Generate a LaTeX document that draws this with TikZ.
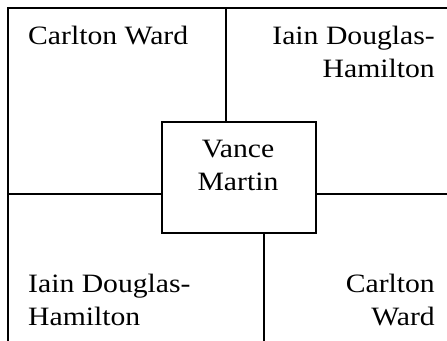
\documentclass[tikz,border=0pt]{standalone}
\usepackage{fontspec}
\setmainfont{Liberation Serif}[FakeStretch=1.12]
\begin{document}
\begin{tikzpicture}[x=1pt,y=1pt,
  rule/.style={line width=1.8pt,line cap=rect},
  lbl/.style={inner sep=0pt,font=\fontsize{26.5}{32.5}\selectfont},
  centerbox/.style={draw,line width=1.8pt,minimum width=154pt,minimum height=111pt,inner sep=0pt,anchor=north west}]
\useasboundingbox (0,0) rectangle (447,-340);
% frame corners
\coordinate (bl) at (8,-340);
\coordinate (tl) at (8,-8);
\coordinate (tr) at (447,-8);
\node[centerbox] (vm) at (161,-121) {};
\node[lbl,align=center,anchor=base] (vmt) at (238,-190) {Vance\\Martin};
\coordinate (topv) at (vm.north -| 226,0);
\coordinate (topend) at (226,-8);
\coordinate (lefth) at (8,-194);
\coordinate (righth) at (447,-194);
\coordinate (botv) at (264,-340);
\draw[rule] (bl) -- (tl) -- (tr);
\draw[rule] (topv) -- (topend);
\draw[rule] (lefth) -- (lefth -| vm.west);
\draw[rule] (righth -| vm.east) -- (righth);
\draw[rule] (vm.south -| botv) -- (botv);
\node[lbl,anchor=base west] (cw1) at (28,-44) {Carlton Ward};
\node[lbl,align=right,anchor=base east] (idh1) at (435,-77) {Iain Douglas-\\Hamilton};
\node[lbl,align=left,anchor=base west] (idh2) at (28,-325) {Iain Douglas-\\Hamilton};
\node[lbl,align=right,anchor=base east] (cw2) at (435,-325) {Carlton\\Ward};
\end{tikzpicture}
\end{document}
